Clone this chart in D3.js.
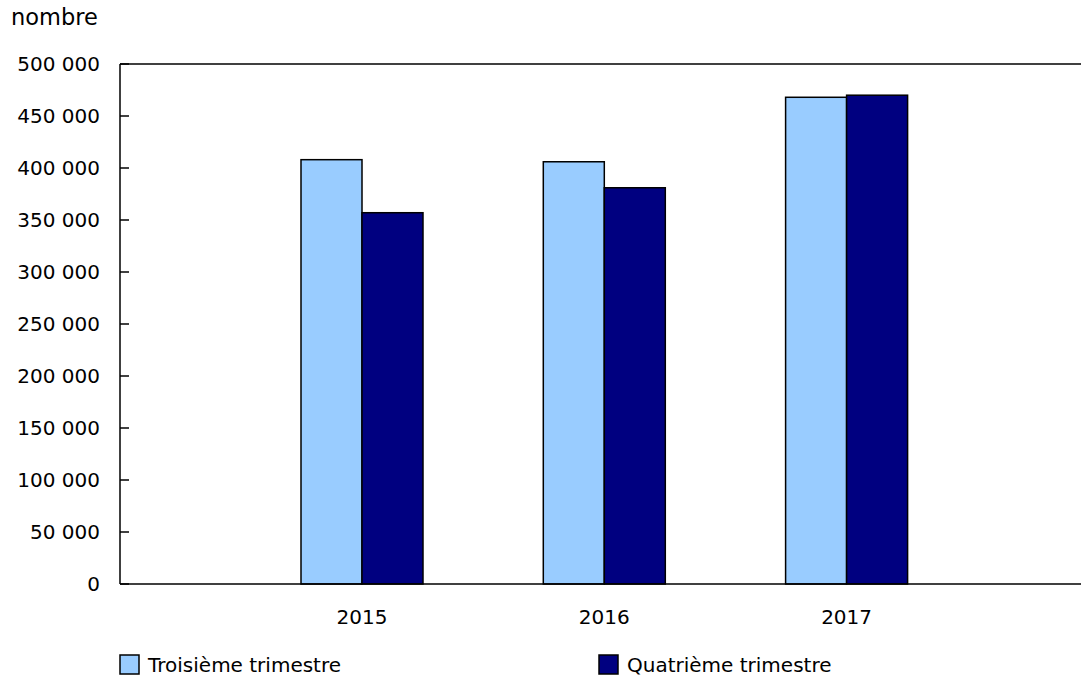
<!DOCTYPE html>
<html>
<head>
<meta charset="utf-8">
<script src="https://cdnjs.cloudflare.com/ajax/libs/d3/7.8.5/d3.min.js"></script>
<style>
  body { margin: 0; background: #fff; }
  text { font-family: "DejaVu Sans", Verdana, sans-serif; fill: #000; }
</style>
</head>
<body>
<svg id="chart" width="1081" height="679"></svg>
<script>
// data
var years = ["2015", "2016", "2017"];
var seriesNames = ["Troisième trimestre", "Quatrième trimestre"];
var q3 = [408000, 406000, 468000];
var q4 = [357000, 381000, 470000];
var colors = ["#99CCFF", "#000080"];
var yTicks = [0, 50000, 100000, 150000, 200000, 250000, 300000, 350000, 400000, 450000, 500000];

var svg = d3.select("#chart");
var margin = { left: 120, top: 64, right: 0, bottom: 95 };
var width = 1081 - margin.left - margin.right;
var height = 679 - margin.top - margin.bottom;

var g = svg.append("g")
    .attr("transform", "translate(" + margin.left + "," + margin.top + ")");

var step = 242.3;
var x = d3.scaleBand()
    .domain(years)
    .range([362 - margin.left - step / 2, 362 - margin.left - step / 2 + step * years.length]);
var x1 = d3.scaleBand()
    .domain([0, 1])
    .range([-61, 61]);

var y = d3.scaleLinear().domain([0, 500000]).range([height, 0]);

var fmt = function (d) { return d3.format(",")(d).replace(/,/g, "\u00a0"); };

// y ticks (inside the plot)
g.selectAll(".ytick")
    .data(yTicks)
    .enter().append("line")
    .attr("x1", 0).attr("x2", 9)
    .attr("y1", function (d) { return y(d); })
    .attr("y2", function (d) { return y(d); })
    .attr("stroke", "#000").attr("stroke-width", 1.5);

g.selectAll(".ylabel")
    .data(yTicks)
    .enter().append("text")
    .attr("x", -20)
    .attr("y", function (d) { return y(d); })
    .attr("dy", "0.36em")
    .attr("text-anchor", "end")
    .style("font-size", "20px")
    .text(fmt);

// bars
var groups = g.selectAll(".year")
    .data(years)
    .enter().append("g")
    .attr("transform", function (d) { return "translate(" + (x(d) + x.bandwidth() / 2) + ",0)"; });

groups.selectAll("rect")
    .data(function (d, i) { return [q3[i], q4[i]]; })
    .enter().append("rect")
    .attr("x", function (d, j) { return x1(j); })
    .attr("width", x1.bandwidth())
    .attr("y", function (d) { return y(d); })
    .attr("height", function (d) { return height - y(d); })
    .attr("fill", function (d, j) { return colors[j]; })
    .attr("stroke", "#000")
    .attr("stroke-width", 1.5);

// frame: top, left, bottom
g.append("line").attr("x1", 0).attr("x2", width).attr("y1", 0).attr("y2", 0)
    .attr("stroke", "#000").attr("stroke-width", 1.5);
g.append("line").attr("x1", 0).attr("x2", 0).attr("y1", 0).attr("y2", height)
    .attr("stroke", "#000").attr("stroke-width", 1.5);
g.append("line").attr("x1", 0).attr("x2", width).attr("y1", height).attr("y2", height)
    .attr("stroke", "#000").attr("stroke-width", 1.5);

// x labels
g.selectAll(".xlabel")
    .data(years)
    .enter().append("text")
    .attr("x", function (d) { return x(d) + x.bandwidth() / 2; })
    .attr("y", height + 40)
    .attr("text-anchor", "middle")
    .style("font-size", "20px")
    .text(function (d) { return d; });

// unit label
svg.append("text")
    .attr("x", 11).attr("y", 25)
    .style("font-size", "22.5px")
    .text("nombre");

// legend
var legendX = [120, 599];
var legend = svg.selectAll(".legend")
    .data(seriesNames)
    .enter().append("g")
    .attr("transform", function (d, i) { return "translate(" + legendX[i] + ",655)"; });
legend.append("rect")
    .attr("width", 19).attr("height", 19)
    .attr("fill", function (d, i) { return colors[i]; })
    .attr("stroke", "#000").attr("stroke-width", 1.5);
legend.append("text")
    .attr("x", 28).attr("y", 17)
    .style("font-size", "20px")
    .text(function (d) { return d; });
</script>
</body>
</html>
